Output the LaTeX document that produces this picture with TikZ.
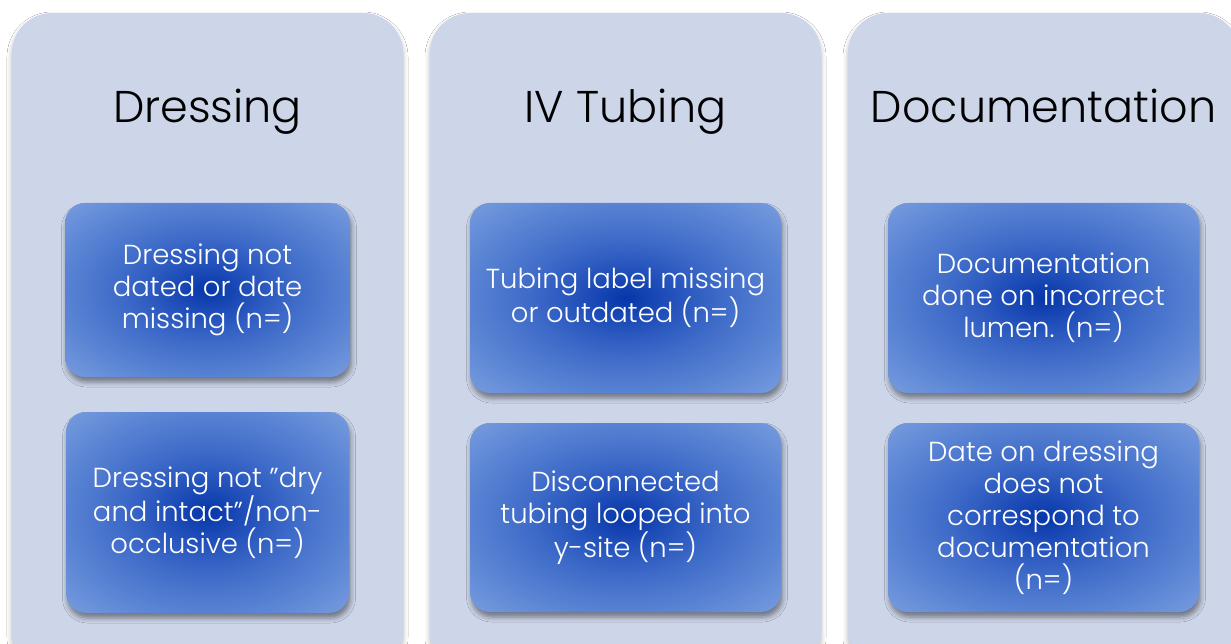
\documentclass[tikz,border=0pt]{standalone}
\usepackage{fontspec}
\setmainfont{Poppins Light}
\usetikzlibrary{shadows.blur}
\definecolor{colfill}{HTML}{CDD5E9}
\definecolor{shA}{HTML}{0636A8}
\definecolor{shB}{HTML}{1D4CB8}
\definecolor{shC}{HTML}{3D6AC8}
\definecolor{shD}{HTML}{5B85D4}
\definecolor{shE}{HTML}{7C9FE0}
\definecolor{shF}{HTML}{A8BFEF}
\pgfdeclareradialshading{boxshade}{\pgfpoint{0bp}{0bp}}{%
  color(0bp)=(shA); color(6bp)=(shB); color(15bp)=(shC); color(26bp)=(shD); color(37bp)=(shE); color(50bp)=(shF)}
\tikzset{
  colbox/.style={fill=colfill, rounded corners=40pt, minimum width=391pt, minimum height=660pt,
    inner sep=0pt, blur shadow={shadow xshift=0pt, shadow yshift=-4pt, shadow blur radius=5pt, shadow opacity=30}},
  header/.style={font=\fontsize{44.5}{50}\selectfont, text=black, inner sep=0pt, anchor=base},
  itembox/.style={shading=boxshade, rounded corners=20pt, inner sep=0pt, align=center,
    text=white, font=\fontsize{27.5}{32}\selectfont,
    blur shadow={shadow xshift=1.5pt, shadow yshift=-5pt, shadow blur radius=5pt, shadow opacity=45}},
}
\begin{document}
\begin{tikzpicture}[x=1pt,y=-1pt]
\clip (0,0) rectangle (1231,644);
\fill[white] (0,0) rectangle (1231,644);
% columns
\node[colbox] (c1) at (207.5,343) {};
\node[colbox] (c2) at (625.5,343) {};
\node[colbox] (c3) at (1043.5,343) {};
% headers
\node[header] (h1) at (207.5,123) {Dressing};
\node[header] (h2) at (625.5,123) {IV Tubing};
\node[header] (h3) at (1043.5,123) {Documentation};
% items
\node[itembox, minimum width=285pt, minimum height=174pt] (a1) at (207.5,290) {Dressing not\\dated or date\\missing (n=)};
\node[itembox, minimum width=283pt, minimum height=201pt] (a2) at (207.5,512.5) {Dressing not "dry\\and intact"/non-\\occlusive (n=)};
\node[itembox, minimum width=311pt, minimum height=190pt] (b1) at (625.5,298) {Tubing label missing\\or outdated (n=)};
\node[itembox, minimum width=311pt, minimum height=189pt] (b2) at (625.5,517.5) {Disconnected\\tubing looped into\\y-site (n=)};
\node[itembox, minimum width=311pt, minimum height=190pt] (d1) at (1043.5,298) {Documentation\\done on incorrect\\lumen. (n=)};
\node[itembox, minimum width=311pt, minimum height=189pt] (d2) at (1043.5,517.5) {Date on dressing\\does not\\correspond to\\documentation\\(n=)};
\end{tikzpicture}
\end{document}
